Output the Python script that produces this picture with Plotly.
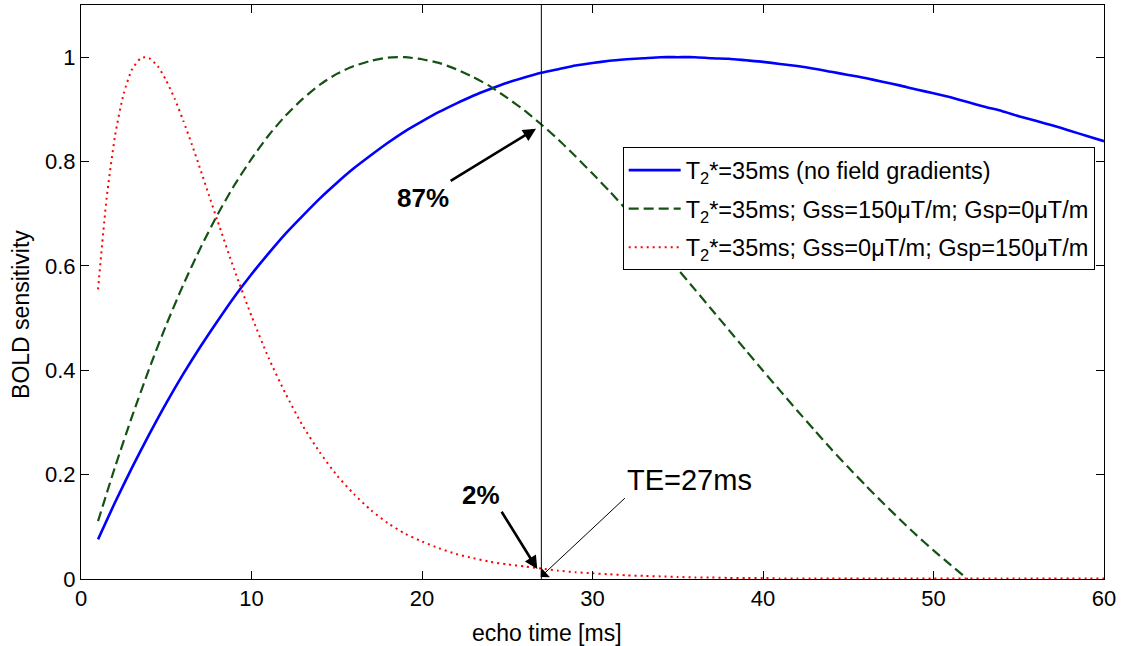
import plotly.graph_objects as go

# Echo times [ms]
te_blue = list(range(1, 61))
te_green = list(range(1, 53))
te_red = [1, 1.5, 2, 2.5, 3, 3.5, 3.75, 4, 4.5, 5, 5.5, 6, 6.5, 7, 7.5, 8] + list(range(9, 61))

# BOLD sensitivity, T2*=35ms, no field gradients
bold_blue = [
    0.076, 0.147, 0.214, 0.277, 0.337, 0.393, 0.445, 0.494, 0.541, 0.584,
    0.624, 0.662, 0.696, 0.729, 0.759, 0.787, 0.812, 0.836, 0.858, 0.877,
    0.895, 0.911, 0.926, 0.939, 0.951, 0.961, 0.970, 0.977, 0.984, 0.989,
    0.993, 0.996, 0.998, 1.000, 1.000, 1.000, 0.998, 0.997, 0.994, 0.991,
    0.987, 0.983, 0.978, 0.972, 0.966, 0.960, 0.953, 0.946, 0.938, 0.931,
    0.923, 0.914, 0.905, 0.897, 0.887, 0.878, 0.869, 0.859, 0.849, 0.839,
]

# Gss=150uT/m, Gsp=0uT/m
bold_green = [
    0.111, 0.215, 0.312, 0.403, 0.487, 0.564, 0.634, 0.698, 0.755, 0.805,
    0.850, 0.888, 0.920, 0.947, 0.968, 0.983, 0.993, 0.999, 1.000, 0.996,
    0.989, 0.977, 0.962, 0.944, 0.922, 0.898, 0.871, 0.842, 0.810, 0.777,
    0.743, 0.707, 0.670, 0.632, 0.594, 0.555, 0.516, 0.477, 0.438, 0.399,
    0.361, 0.323, 0.286, 0.249, 0.214, 0.180, 0.147, 0.115, 0.084, 0.055,
    0.027, 0.000,
]

# Gss=0uT/m, Gsp=150uT/m
bold_red = [
    0.555, 0.729, 0.850, 0.930, 0.977, 0.998, 1.000, 0.998, 0.983, 0.955,
    0.920, 0.878, 0.833, 0.785, 0.736, 0.687,
    0.592, 0.504, 0.424, 0.355, 0.294, 0.243, 0.199, 0.163, 0.132, 0.107,
    0.087, 0.072, 0.059, 0.048, 0.040, 0.033, 0.028, 0.024, 0.020, 0.016,
    0.013, 0.011, 0.009, 0.007, 0.006, 0.005, 0.004, 0.003, 0.003, 0.002,
    0.002, 0.002, 0.001, 0.001, 0.001, 0.001, 0.001, 0.001, 0.001, 0.001,
    0.001, 0.001, 0.001, 0.001, 0.001, 0.001, 0.001, 0.001, 0.001, 0.001,
    0.001, 0.001,
]

legend_names = [
    "T<sub>2</sub>*=35ms (no field gradients)",
    "T<sub>2</sub>*=35ms; Gss=150\u03bcT/m; Gsp=0\u03bcT/m",
    "T<sub>2</sub>*=35ms; Gss=0\u03bcT/m; Gsp=150\u03bcT/m",
]

x_ticks = [0, 10, 20, 30, 40, 50, 60]
y_ticks = [0, 0.2, 0.4, 0.6, 0.8, 1]
y_tick_text = ["0", "0.2", "0.4", "0.6", "0.8", "1"]

te_marker = 27

FONT = "Liberation Sans, Arial, sans-serif"

fig = go.Figure()
fig.add_trace(go.Scatter(x=te_blue, y=bold_blue, mode="lines", name=legend_names[0],
                         legendgroup="a",
                         line=dict(color="#0000ff", width=2.6, shape="spline", smoothing=0.6)))
fig.add_trace(go.Scatter(x=te_green, y=bold_green, mode="lines", name=legend_names[1],
                         legendgroup="b",
                         line=dict(color="#145214", width=2.2, dash="10px,5px",
                                   shape="spline", smoothing=0.6)))
fig.add_trace(go.Scatter(x=te_red, y=bold_red, mode="lines", name=legend_names[2],
                         legendgroup="c",
                         line=dict(color="#ff0000", width=2, dash="2px,4px",
                                   shape="spline", smoothing=0.6)))

# vertical marker at the chosen echo time
fig.add_shape(type="line", xref="x", yref="paper", x0=te_marker, x1=te_marker, y0=0, y1=1,
              line=dict(color="black", width=1))

# callouts: the arrow tail sits on a corner of each label
fig.add_annotation(x=26.69, y=0.863, ax=21.68, ay=0.763, axref="x", ayref="y",
                   text="<b>87%</b>", xanchor="right", yanchor="top",
                   font=dict(family=FONT, size=26, color="black"),
                   showarrow=True, arrowhead=2, arrowsize=1, arrowwidth=2.6, arrowcolor="black")
fig.add_annotation(x=26.76, y=0.019, ax=24.67, ay=0.129, axref="x", ayref="y",
                   text="<b>2%</b>", xanchor="right", yanchor="bottom",
                   font=dict(family=FONT, size=26, color="black"),
                   showarrow=True, arrowhead=2, arrowsize=1, arrowwidth=2.6, arrowcolor="black")
fig.add_annotation(x=26.96, y=0.004, ax=31.9, ay=0.155, axref="x", ayref="y",
                   text="TE=27ms", xanchor="left", yanchor="bottom",
                   font=dict(family=FONT, size=29, color="black"),
                   showarrow=True, arrowhead=1, arrowsize=2.2, arrowwidth=1, arrowcolor="black")

# axis titles
fig.add_annotation(x=0.4555, y=-0.094, xref="paper", yref="paper", text="echo time [ms]",
                   showarrow=False, xanchor="center", yanchor="middle",
                   font=dict(family=FONT, size=23, color="black"))
fig.add_annotation(x=-0.0587, y=0.4617, xref="paper", yref="paper", text="BOLD sensitivity",
                   showarrow=False, xanchor="center", yanchor="middle", textangle=-90,
                   font=dict(family=FONT, size=23, color="black"))

axis_common = dict(showline=True, linecolor="black", linewidth=1, mirror="ticks",
                   ticks="inside", ticklen=8, tickcolor="black", showgrid=False,
                   zeroline=False, tickfont=dict(family=FONT, size=22, color="black"))

fig.update_xaxes(range=[0, 60], tickvals=x_ticks, **axis_common)
fig.update_yaxes(range=[0, 1.1], tickvals=y_ticks, ticktext=y_tick_text, **axis_common)

fig.update_layout(
    width=1126, height=646,
    margin=dict(l=81, r=22, t=5, b=67),
    plot_bgcolor="white", paper_bgcolor="white",
    font=dict(family=FONT, color="black"),
    legend=dict(x=0.5295, y=0.752, xanchor="left", yanchor="top",
                bgcolor="white", bordercolor="black", borderwidth=1,
                font=dict(family=FONT, size=23.5, color="black"),
                tracegroupgap=5, itemwidth=52),
    showlegend=True,
)

fig.write_html("out.html")
